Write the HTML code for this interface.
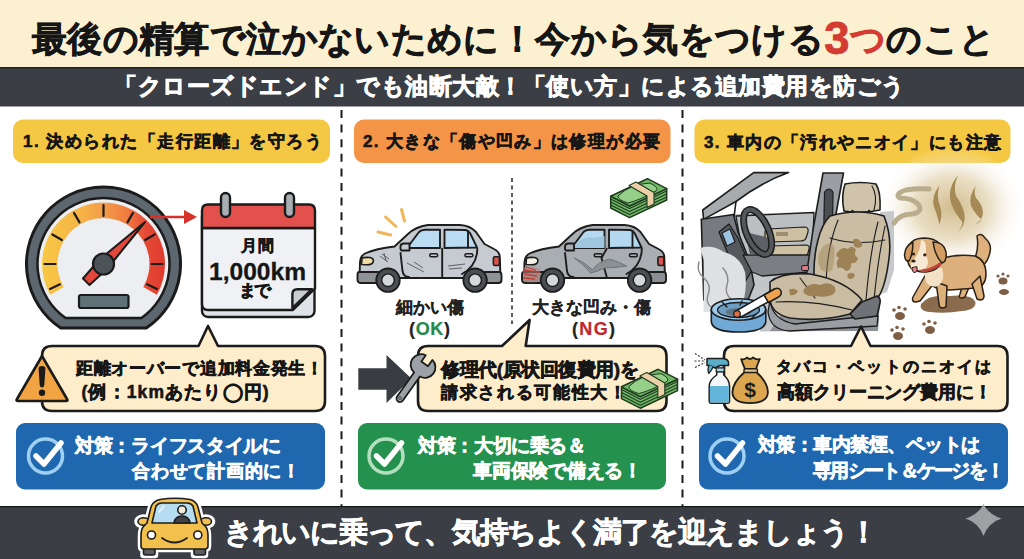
<!DOCTYPE html>
<html><head><meta charset="utf-8">
<style>
html,body{margin:0;padding:0}
body{width:1024px;height:559px;overflow:hidden;position:relative;background:#fff;font-family:"Liberation Sans",sans-serif}
.t{position:absolute;white-space:nowrap;line-height:1}
svg{position:absolute;left:0;top:0}
</style></head><body>
<svg width="1024" height="559" viewBox="0 0 1024 559">
<defs>
<linearGradient id="arcg" x1="0" y1="0" x2="1" y2="0">
<stop offset="0" stop-color="#f7c845"/><stop offset="0.3" stop-color="#f6b545"/><stop offset="0.5" stop-color="#f39d4a"/>
<stop offset="0.68" stop-color="#ef7d3f"/><stop offset="0.84" stop-color="#e64a35"/><stop offset="1" stop-color="#de3a2f"/>
</linearGradient>
<radialGradient id="smell" cx="0.5" cy="0.5" r="0.5">
<stop offset="0" stop-color="#cfb888" stop-opacity="0.95"/><stop offset="0.5" stop-color="#e0d0aa" stop-opacity="0.7"/><stop offset="1" stop-color="#ffffff" stop-opacity="0"/>
</radialGradient>
</defs>
<!-- bands -->
<rect x="0" y="0" width="1024" height="67" fill="#fbf0d0"/>
<rect x="0" y="67" width="1024" height="39.5" fill="#3b3e44"/>
<rect x="0" y="67" width="1024" height="1.5" fill="#222"/>
<rect x="0" y="506" width="1024" height="53" fill="#3b3e44"/>
<rect x="0" y="506" width="1024" height="1.2" fill="#151515"/>
<!-- dashed separators -->
<line x1="341.5" y1="110" x2="341.5" y2="506" stroke="#1a1a1a" stroke-width="2" stroke-dasharray="8 6.6"/>
<line x1="682.5" y1="110" x2="682.5" y2="506" stroke="#1a1a1a" stroke-width="2" stroke-dasharray="8 6.6"/>
<!-- pills -->
<rect x="13" y="119.5" width="317" height="43.5" rx="10" fill="#f5c843"/>
<rect x="354" y="119.5" width="316.5" height="43.5" rx="10" fill="#f39447"/>
<rect x="694.5" y="119.5" width="316" height="43.5" rx="10" fill="#f5c843"/>
<!-- boxes -->
<rect x="16" y="423" width="309" height="66.5" rx="9" fill="#1f68af"/>
<rect x="358" y="423" width="308" height="66.5" rx="9" fill="#24914f"/>
<rect x="699" y="423" width="309" height="66.5" rx="9" fill="#1f68af"/>
<!-- speedometer -->
<g stroke="#1b1b1b" stroke-linejoin="round">
<path d="M60.7 328 A77 77 0 1 1 146.3 328 Z" fill="#5c676f" stroke-width="3"/>
<path d="M65.6 318 A66 66 0 1 1 141.4 318 Z" fill="#eceef1" stroke-width="2.5"/>
<path d="M50.2 294.8 A61.5 61.5 0 1 1 156.8 294.8 L143.3 287.0 A46 46 0 1 0 63.7 287.0 Z" fill="url(#arcg)" stroke="none"/>
<g stroke-width="2.2" stroke-linecap="round"><line x1="60.0" y1="284.3" x2="50.0" y2="288.9"/><line x1="55.5" y1="264.0" x2="44.5" y2="264.0"/><line x1="61.9" y1="240.0" x2="52.4" y2="234.5"/><line x1="79.5" y1="222.4" x2="74.0" y2="212.9"/><line x1="103.5" y1="216.0" x2="103.5" y2="205.0"/><line x1="127.5" y1="222.4" x2="133.0" y2="212.9"/><line x1="145.1" y1="240.0" x2="154.6" y2="234.5"/><line x1="151.5" y1="264.0" x2="162.5" y2="264.0"/><line x1="147.0" y1="284.3" x2="157.0" y2="288.9"/></g>
<path d="M145 222 L107.5 268.5 L89.5 285 L83 278.5 L99 260 Z" fill="#e2483c" stroke-width="2"/>
<circle cx="103.5" cy="264" r="10.5" fill="#4b5359" stroke-width="2.2"/>
<rect x="79" y="295" width="49.5" height="13" rx="2" fill="#5f7176" stroke-width="2.2"/>
</g>
<!-- arrow -->
<line x1="150" y1="217" x2="187" y2="217" stroke="#d8302a" stroke-width="2.6"/>
<path d="M184 210 L197 217 L184 224 Z" fill="#d8302a"/>
<!-- calendar -->
<g stroke="#1b1b1b" stroke-width="2.4" stroke-linejoin="round">
<rect x="202" y="210" width="112.5" height="107" rx="6" fill="#dfe2e6"/>
<path d="M202 228 L315 228 L315 288.5 L293 310 L208 310 Q202 310 202 304 Z" fill="#eff1f4"/>
<path d="M208 204.5 L309 204.5 Q315 204.5 315 210.5 L315 228 L202 228 L202 210.5 Q202 204.5 208 204.5 Z" fill="#e3514d"/>
<path d="M292.4 308 L292.4 294 Q292.4 289.2 297.4 289.2 L312 289.2 Z" fill="#c9ccd1"/>
<rect x="221" y="193" width="9" height="24" rx="4.5" fill="#a9aeb3"/>
<rect x="285" y="193" width="9" height="24" rx="4.5" fill="#a9aeb3"/>
</g>
<!-- bubble 1 -->
<path d="M52 346 L198.5 346 L208 326 L218 346 L315 346 Q325 346 325 356 L325 401 Q325 411 315 411 L52 411 Q42 411 42 401 L42 356 Q42 346 52 346 Z" fill="#fdedca" stroke="#1b1b1b" stroke-width="2.6" stroke-linejoin="round"/>
<path d="M42 356 L67 399 Q68.5 401 66 401 L18 401 Q15.5 401 17 399 Z" fill="#f2a442" stroke="#1b1b1b" stroke-width="2.6" stroke-linejoin="round"/>
<path d="M38.6 369 Q38.4 366 42 366 Q45.6 366 45.4 369 L44.3 385 Q44 387.5 42 387.5 Q40 387.5 39.7 385 Z" fill="#1b1b1b"/>
<circle cx="42" cy="392.8" r="3.2" fill="#1b1b1b"/>
<!-- check icon 1 -->
<circle cx="45.5" cy="456" r="17" fill="none" stroke="#9fd0f3" stroke-width="3.5"/>
<path d="M36 456 L44 464 L61 443" fill="none" stroke="#fff" stroke-width="5.5" stroke-linecap="round" stroke-linejoin="round"/>
<line x1="512" y1="178" x2="512" y2="324" stroke="#5a5a5a" stroke-width="2" stroke-dasharray="4 3.5"/>
<g id="car" stroke="#1d1d1d" stroke-width="1.9" stroke-linejoin="round" stroke-linecap="round">
<path d="M359.5 278 L360 262 Q360.5 256 365 253.5 Q376 248.5 394.5 246.5 L408 234 Q415 227 428 225 L460 225 Q470 225.5 476 232 L484.5 244 L494 249 Q499.5 251.5 499.8 257 L500.5 278 Z" fill="#c5cbd1"/>
<path d="M407 248 L419 232 Q421 230 425 229.8 L440 229.6 L440 248 Z" fill="#b9dcf2"/>
<path d="M444.5 229.6 L465.5 230 Q468 230.2 470 233 L477 247.5 L444.5 248 Z" fill="#b9dcf2"/>
<line x1="468" y1="231" x2="468" y2="247.5"/>
<path d="M400.5 246 Q401 243.5 404 243.5 L409.5 243.5 L409.5 250.5 L402 250.5 Q400.5 250.5 400.5 248 Z" fill="#c5cbd1"/>
<path d="M400.5 253 L402.5 271 Q403.5 277 409 277" fill="none"/>
<line x1="442.2" y1="248.7" x2="442.2" y2="277"/>
<path d="M477.3 248.7 Q477 266 462 274" fill="none"/>
<rect x="429.7" y="253.8" width="8" height="3" rx="1.5" fill="#c5cbd1" stroke-width="1.5"/>
<rect x="464.9" y="253.8" width="8" height="3" rx="1.5" fill="#c5cbd1" stroke-width="1.5"/>
<path d="M362 258 Q365 257 370 257.5 Q374 258.5 373.3 261.5 Q372.5 264.8 367 264.8 L361.5 264.5 Z" fill="#f1dca6" stroke-width="1.6"/>
<rect x="493.4" y="256.7" width="6" height="8.8" rx="1.5" fill="#d9534f" stroke-width="1.6"/>
<path d="M359 272 L384 272 L384 283 L361 283 Q357.5 283 357.5 279.5 L357.5 275 Q357.5 272 359 272 Z" fill="#8e9398"/>
<path d="M478 272 L499 272 Q501.5 272 501.5 275 L501.5 280 Q501.5 283 498.5 283 L478 283 Z" fill="#8e9398"/>
<line x1="397" y1="278" x2="465" y2="278"/>
<circle cx="388" cy="280.2" r="11.7" fill="#4b4f53"/>
<circle cx="388" cy="280.2" r="6.3" fill="#d5d8db" stroke-width="1.4"/>
<circle cx="475.1" cy="280.2" r="11.7" fill="#4b4f53"/>
<circle cx="475.1" cy="280.2" r="6.3" fill="#d5d8db" stroke-width="1.4"/>
</g>
<g stroke="#f0b658" stroke-width="3" stroke-linecap="round">
<line x1="378" y1="232" x2="390.8" y2="235"/><line x1="385.5" y1="217" x2="396" y2="226.5"/><line x1="401.5" y1="209.5" x2="404.5" y2="221"/>
</g>
<g stroke="#555" stroke-width="0.9" fill="none">
<path d="M380 256 L388 262 M382 254 L389 259 M384 253 L386 261"/>
<path d="M407 263 L424 272 M414 262 L423 268"/>
<path d="M448 266 L465 264 M449 269 L462 268"/>
</g>
<!-- car 2 -->
<g transform="translate(164.5 0)" stroke="#1d1d1d" stroke-width="1.9" stroke-linejoin="round" stroke-linecap="round">
<path d="M359.5 278 L360 262 Q360.5 256 365 253.5 Q376 248.5 394.5 246.5 L408 234 Q415 227 428 225 L460 225 Q470 225.5 476 232 L484.5 244 L494 249 Q499.5 251.5 499.8 257 L500.5 278 Z" fill="#a9aeb3"/>
<path d="M407 248 L419 232 Q421 230 425 229.8 L440 229.6 L440 248 Z" fill="#b3d8ef"/>
<path d="M444.5 229.6 L465.5 230 Q468 230.2 470 233 L477 247.5 L444.5 248 Z" fill="#b3d8ef"/>
<path d="M412 243 Q420 236 430 238 L440 236 L440 248 L408 248 Z" fill="#9fc6df" stroke="none"/>
<line x1="468" y1="231" x2="468" y2="247.5"/>
<path d="M400.5 246 Q401 243.5 404 243.5 L409.5 243.5 L409.5 250.5 L402 250.5 Q400.5 250.5 400.5 248 Z" fill="#a9aeb3"/>
<path d="M400.5 253 L402.5 271 Q403.5 277 409 277" fill="none"/>
<path d="M442.2 248.7 L437 258 L442.2 277" fill="none"/>
<path d="M477.3 248.7 Q477 266 462 274" fill="none"/>
<path d="M410 258 Q420 262 428 270 Q433 262 445 259 Q455 262 462 266 Q450 268 440 268 Q432 272 426 273 Q420 265 410 258 Z" fill="#8b9095" stroke="#6f7479" stroke-width="1"/>
<rect x="429.7" y="253.8" width="8" height="3" rx="1.5" fill="#a9aeb3" stroke-width="1.5"/>
<rect x="464.9" y="253.8" width="8" height="3" rx="1.5" fill="#a9aeb3" stroke-width="1.5"/>
<path d="M362 258 Q365 257 370 257.5 Q374 258.5 373.3 261.5 Q372.5 264.8 367 264.8 L361.5 264.5 Z" fill="#f4f0e6" stroke-width="1.6"/>
<rect x="493.4" y="256.7" width="6" height="8.8" rx="1.5" fill="#d9534f" stroke-width="1.6"/>
<path d="M359 272 L384 272 L384 283 L361 283 Q357.5 283 357.5 279.5 L357.5 275 Q357.5 272 359 272 Z" fill="#8a8f94"/>
<path d="M478 272 L499 272 Q501.5 272 501.5 275 L501.5 280 Q501.5 283 498.5 283 L478 283 Z" fill="#8a8f94"/>
<path d="M358.5 268 Q367 265 376 269 L375 281 Q366 284 358.5 281 Z" fill="#b9857f" stroke="none" opacity="0.55"/>
<g stroke="#c0392e" stroke-width="1.3" opacity="0.9" fill="none"><path d="M359 270 L374 272 M360 274 L372 276 M359 278 L370 279 M362 267 L371 270"/></g>
<line x1="397" y1="278" x2="465" y2="278"/>
<circle cx="388" cy="280.2" r="11.7" fill="#4b4f53"/>
<circle cx="388" cy="280.2" r="6.3" fill="#d5d8db" stroke-width="1.4"/>
<circle cx="475.1" cy="280.2" r="11.7" fill="#4b4f53"/>
<circle cx="475.1" cy="280.2" r="6.3" fill="#d5d8db" stroke-width="1.4"/>
</g>
<!-- money 1 -->
<g id="money" stroke="#1f3a1f" stroke-width="1.5" stroke-linejoin="round">
<path d="M610.7 208 L629.5 217.6 L666.7 200 L666.7 188.6 L629.5 206 L610.7 196.2 Z" fill="#70b866"/>
<path d="M610.7 199 L629.5 208.6 L666.7 191 M610.7 202 L629.5 211.6 L666.7 194 M610.7 205 L629.5 214.6 L666.7 197" fill="none" stroke-width="1.1"/>
<path d="M610.7 196.2 L647.4 178.7 L666.7 188.6 L629.5 206 Z" fill="#70b866"/>
<path d="M618 196 Q630 184 650 183 Q660 188 656 191 Q640 200 628 203 Q618 200 618 196 Z" fill="#95cf88" stroke-width="1"/>
<path d="M629 185.5 L636 182 L654 192.5 L654 204 L647 207.5 L647 196 Z" fill="#ecd0a8" stroke-width="1.1"/>
</g>
<!-- arrow 2 -->
<path d="M358.3 368.2 L386.5 368.2 L386.5 355 L411.4 378.5 L386.5 403 L386.5 389.8 L358.3 389.8 Z" fill="#393c41"/>
<!-- bubble 2 -->
<path d="M428 346 L502 346 L529.6 320 L525.7 346 L656.5 346 Q666.5 346 666.5 356 L666.5 401 Q666.5 411 656.5 411 L428 411 Q418 411 418 401 L418 356 Q418 346 428 346 Z" fill="#fdedca" stroke="#1b1b1b" stroke-width="2.6" stroke-linejoin="round"/>
<!-- wrench -->
<g stroke="#1b1b1b" stroke-width="1.8" stroke-linejoin="round">
<path d="M397.1 396.5 L414.1 372.5 A10.5 10.5 0 0 1 425.8 355.3 L421.4 361.6 L427.9 366.2 L432.4 359.9 A10.5 10.5 0 0 1 419.9 376.5 L402.9 400.5 A3.5 3.5 0 0 1 397.1 396.5 Z" fill="#9ba1a7"/>
<circle cx="400" cy="398" r="1.3" fill="#eee" stroke-width="0.9"/>
</g>
<!-- money 2 -->
<g transform="translate(10.8 190.6)" stroke="#1f3a1f" stroke-width="1.5" stroke-linejoin="round">
<path d="M610.7 208 L629.5 217.6 L666.7 200 L666.7 188.6 L629.5 206 L610.7 196.2 Z" fill="#70b866"/>
<path d="M610.7 199 L629.5 208.6 L666.7 191 M610.7 202 L629.5 211.6 L666.7 194 M610.7 205 L629.5 214.6 L666.7 197" fill="none" stroke-width="1.1"/>
<path d="M610.7 196.2 L647.4 178.7 L666.7 188.6 L629.5 206 Z" fill="#70b866"/>
<path d="M618 196 Q630 184 650 183 Q660 188 656 191 Q640 200 628 203 Q618 200 618 196 Z" fill="#95cf88" stroke-width="1"/>
<path d="M629 185.5 L636 182 L654 192.5 L654 204 L647 207.5 L647 196 Z" fill="#ecd0a8" stroke-width="1.1"/>
</g>
<!-- check icon 2 -->
<circle cx="386" cy="456" r="17" fill="none" stroke="#b3dfbf" stroke-width="3.5"/>
<path d="M376.5 456 L384.5 464 L401.5 443" fill="none" stroke="#fff" stroke-width="5.5" stroke-linecap="round" stroke-linejoin="round"/>
<!-- smell glow -->
<ellipse cx="952" cy="208" rx="75" ry="62" fill="url(#smell)"/>
<!-- interior -->
<g stroke="#1d1d1d" stroke-width="1.6" stroke-linejoin="round" stroke-linecap="round">
<path d="M703.8 219 L735 214 L814 212 L806 278 L880 300 L878 331 L760 331.4 L760 311.4 L703.8 311.4 Z" fill="#c3c6c9" stroke="none"/>
<path d="M702.7 210 L753.7 172.6 L788.6 172.6 Q762 182 736 201.5 L703.6 219.4 Z" fill="#a8abae"/>
<path d="M736 201.5 L733.5 221" fill="none"/>
<path d="M736 216 L814 212.5 L812 256 L743 256 Z" fill="#bcbfc2" stroke-width="1.3"/>
<path d="M768 229 L804 227 Q809 227 808 232 L806 238 Q805 241 800 241 L769 242 Q765 242 765 238 L765 233 Q765 229 768 229 Z" fill="#cdc1a2" stroke-width="1.2"/>
<path d="M770 246 L806 245 Q810 245 809 249 L808 253 Q807 256 803 256 L771 257 Q767 257 767 253 L767 250 Q767 246 770 246 Z" fill="#cdc1a2" stroke-width="1.2"/>
<path d="M776 232 L788 232 L788 236 L776 236 Z" fill="#9c9070" stroke="none"/>
<path d="M701.3 219.3 L733.5 214.5 L738 232 L750 262 L754 285 L748 300 L703.8 300 Z" fill="#777b7f"/>
<path d="M719 232 L729 224 L738 238 L752 270 L745 282 L737 276 Z" fill="#55595d" stroke-width="1.3"/>
<path d="M722 233 L730 229 L735 242 L727 246 Z" fill="#9cc4e2" stroke-width="1.2"/>
<path d="M743 255 L812 255 L810 272 L762 276 L752 272 Z" fill="#7b7f83" stroke-width="1.3"/>
<path d="M745 232 L770 238 L768 252 L750 255 Z" fill="#5d6165" stroke="none"/>
<ellipse cx="757.6" cy="232" rx="11" ry="24" transform="rotate(-24 757.6 232)" fill="none" stroke="#1d1d1d" stroke-width="7"/>
<ellipse cx="757.6" cy="232" rx="11" ry="24" transform="rotate(-24 757.6 232)" fill="none" stroke="#54585c" stroke-width="4"/>
<path d="M700 248 Q712 244 724 252 Q740 256 745 272 Q748 292 740 311.4 L703.8 311.4 L703.8 260 Z" fill="#dfe0e1" stroke="none"/>
<path d="M699 262 Q696 272 704 278 Q712 285 708 295 Q705 302 712 308 M723 268 Q730 276 727 285 Q724 294 732 300" fill="none" stroke="#85888b" stroke-width="1.4"/>
<path d="M806 276 L880 298 L878 331 L770 331 Z" fill="#8e9195" stroke="none"/>
<path d="M823 173 L843.5 173 L833 230 L823 270 L806 278 L813 230 Z" fill="#9a9da1"/>
<path d="M824.5 192 Q829 186 833 192 L832 268 L823 268 Z" fill="#4a4d51" stroke-width="1.2"/>
<rect x="801.6" y="265.5" width="7" height="5" rx="1.5" fill="#e07b86" stroke-width="1"/>
<!-- seat -->
<path d="M880 212 L894 211 L894 270 L887 292 L879 295 Z" fill="#c6c8ca" stroke="none"/>
<path d="M845 184 Q860 181 876 184 Q881 192 880 210 Q862 214 844 211 Q841 196 845 184 Z" fill="#cfc4ab"/>
<path d="M872 186 Q878 196 874 210" fill="none" stroke-width="1.1"/>
<path d="M852.5 211 L852.5 216 M869 211 L869 216" fill="none" stroke-width="2.4"/>
<path d="M830 216 Q858 208 884 216 Q892 236 889 258 Q886 284 879 296 L858 304 L815 290 Q812 262 818 240 Q822 224 830 216 Z" fill="#cabda4"/>
<path d="M838 220 Q826 250 826 290 M878 222 Q870 252 866 300 M885 226 Q878 258 874 300 M830 238 Q856 246 885 240" fill="none" stroke-width="1.1"/>
<path d="M770 282 Q782 272 810 274 Q845 280 862 300 L850 314 Q820 322 790 318 Q772 314 770 300 Z" fill="#c9bca3"/>
<path d="M776 302 Q812 300 852 310 M800 278 L815 298" fill="none" stroke-width="1.1"/>
<path d="M770 300 Q772 320 795 324 L850 318 L878 316 L877 326 L790 331 Q770 330 768 312 Z" fill="#9a9da1" stroke-width="1.3"/>
<path d="M850 314 L862 302 L877 296 Q881 298 880 303 L877 316 L855 319 Z" fill="#6f7377"/>
<g fill="#9c8255" stroke="none">
<path d="M838 252 Q842 246 848 249 Q852 244 856 250 Q853 255 858 258 Q857 264 851 263 Q852 270 846 271 Q842 266 838 268 Q835 262 839 258 Q834 255 838 252 Z"/>
<path d="M853 240 Q857 237 860 241 Q864 243 861 247 Q857 249 854 246 Z"/>
<path d="M848 274 Q852 271 855 275 Q854 279 850 279 Q846 278 848 274 Z"/>
<path d="M822 248 Q828 240 834 246 Q836 258 832 270 Q824 276 819 266 Q816 256 822 248 Z" opacity="0.45"/>
<path d="M806 287 Q812 282 820 285 Q828 281 834 286 Q838 291 832 295 Q824 298 816 296 Q808 297 804 293 Q802 290 806 287 Z"/>
<path d="M789 290 Q794 287 798 291 Q796 296 790 295 Z"/>
</g>
<!-- ashtray -->
<path d="M711.3 309.5 L711.3 322 Q713 332 738.5 332 Q764 332 765.8 322 L765.8 309.5 Z" fill="#70a9d6"/>
<ellipse cx="738.5" cy="309.5" rx="27.2" ry="10.7" fill="#9fcbeb"/>
<ellipse cx="738.5" cy="310" rx="21" ry="7.5" fill="#6c9dc2" stroke-width="1.3"/>
<ellipse cx="738.5" cy="312" rx="13" ry="4" fill="#5e7684" stroke="none"/>
<path d="M722 302 L727 307 M756 314 L752 318 M742 301 L740 305" fill="none" stroke-width="1.4"/>
<path d="M735 311.5 L774.5 289 L780.5 295 L741 317 Z" fill="#ffffff" stroke-width="1.5"/>
<path d="M764 295 L774.5 289 Q779 287 781 291 Q782 295 778.5 297 L768.5 302.5 Z" fill="#eea34f" stroke-width="1.5"/>
<circle cx="737" cy="314" r="3.3" fill="#dd6e45" stroke-width="1.2"/>
</g>
<!-- smell lines -->
<g fill="#a68a55" stroke="none">
<path d="M939.5 185.5 Q931 196 934 207 Q937 214 939.5 224.5 Q943 214 940 206 Q936 196 939.5 185.5 Z"/>
<path d="M958 175.5 Q947 188 951 203 Q955 214 962.5 222 Q962 228 956.5 233.5 Q966 226 964.5 214 Q962 204 956 196 Q953 186 958 175.5 Z"/>
<path d="M976.5 185 Q968 196 971 206 Q975 214 981 219 Q981 222 975 224.5 Q983 220 983 212 Q982 204 976 198 Q973 191 976.5 185 Z"/>
</g>
<path d="M894 223 Q900 214 912 214 Q924 212 918 204 Q912 198 900 198 Q894 194 906 190 Q918 188 929 189" fill="none" stroke="#b9ad8d" stroke-width="5" stroke-linecap="round" stroke-linejoin="round"/>
<!-- mud + paws -->
<path d="M921 304 Q928 294 950 296 Q972 294 975.5 302 Q976 310 962 311 Q945 314 930 312 Q919 311 921 304 Z" fill="#8b6b4e"/>
<g fill="#7e5f45">
<ellipse cx="900" cy="316" rx="5" ry="4"/><circle cx="894" cy="310" r="1.8"/><circle cx="899" cy="307.5" r="1.8"/><circle cx="905" cy="309" r="1.8"/>
<ellipse cx="898" cy="336" rx="5" ry="4"/><circle cx="892" cy="330" r="1.8"/><circle cx="897" cy="327.5" r="1.8"/><circle cx="903" cy="329" r="1.8"/>
<ellipse cx="930" cy="330" rx="5" ry="4"/><circle cx="924" cy="324" r="1.8"/><circle cx="929" cy="321.5" r="1.8"/><circle cx="935" cy="323" r="1.8"/>
<ellipse cx="1003" cy="281" rx="4.5" ry="3.5"/><circle cx="998" cy="276" r="1.6"/><circle cx="1003" cy="274" r="1.6"/><circle cx="1008" cy="276" r="1.6"/>
<ellipse cx="1004" cy="292" rx="5" ry="3"/>
</g>
<!-- dog -->
<g stroke="#2a2118" stroke-width="1.5" stroke-linejoin="round" stroke-linecap="round">
<path d="M975 258 Q979 248 977 236 Q981 232 985 238 Q992 244 990 252 Q988 262 982 266 Z" fill="#deb07c"/>
<path d="M963 283 L960 294 Q958 298 962 298 L965 297 L970 285 Z" fill="#deb07c"/>
<path d="M942 258 Q958 254 975 256 Q986 260 986 274 Q986 286 976 288 L950 290 Q934 290 928 282 Q924 268 942 258 Z" fill="#deb07c"/>
<path d="M980 276 L984 296 Q984 300 980 300 L977 299 L972 284 Z" fill="#deb07c"/>
<path d="M927 272 L913 297 Q911 302 916 302 L920 301 L935 282 Z" fill="#deb07c"/>
<path d="M936 282 L939 304 Q939 308 943 308 L946 307 L947 286 Z" fill="#deb07c"/>
<path d="M924 272 Q932 266 942 268 Q946 280 938 286 Q930 288 926 282 Z" fill="#f4e2c6" stroke="none"/>
<path d="M908 252 Q908 238 925 238 Q944 239 943 256 Q942 270 926 272 Q910 272 908 262 Z" fill="#deb07c"/>
<path d="M921 240 Q926 240 926 248 L926 256 Q930 262 926 268 Q918 272 911 268 Q910 262 915 258 Q920 252 921 240 Z" fill="#f6e8d2" stroke="none"/>
<path d="M913 242 Q905 246 904.5 255 Q905 262 909 261 Q913 254 913 242 Z" fill="#d29c62"/>
<path d="M933 242 Q944 242 946 252 Q947 262 942 263 Q935 256 933 242 Z" fill="#d29c62"/>
<circle cx="913.5" cy="254" r="1.6" fill="#2a2118" stroke="none"/>
<circle cx="924.8" cy="254.8" r="1.6" fill="#2a2118" stroke="none"/>
<ellipse cx="913.5" cy="261" rx="2.2" ry="1.6" fill="#2a2118" stroke="none"/>
<path d="M912 268 Q912 273 915.5 272.5 Q918 271 917 267 Z" fill="#e8808a" stroke-width="1"/>
<path d="M922 271 Q932 270 940 264" fill="none" stroke="#c0443a" stroke-width="3"/>
</g>
<!-- bubble 3 -->
<path d="M734 346 L851 346 L861 326.5 L870.5 346 L997.5 346 Q1007.5 346 1007.5 356 L1007.5 401 Q1007.5 411 997.5 411 L734 411 Q724 411 724 401 L724 356 Q724 346 734 346 Z" fill="#fdedca" stroke="#1b1b1b" stroke-width="2.6" stroke-linejoin="round"/>
<!-- spray bottle -->
<g stroke="#1d1d1d" stroke-width="1.5" stroke-linejoin="round">
<path d="M716.7 371.5 L723.7 371.5 L723.7 375 Q729.5 380 729.5 386 L729.5 401.5 Q729.5 403.2 727.8 403.2 L710.9 403.2 Q709.2 403.2 709.2 401.5 L709.2 386 Q709.2 380 716.7 375 Z" fill="#f2f6f9"/>
<path d="M709.9 386 L728.8 386 L728.8 401.5 Q728.8 402.5 727.8 402.5 L710.9 402.5 Q709.9 402.5 709.9 401.5 Z" fill="#62b4d8" stroke="none"/>
<rect x="716.2" y="367.8" width="8" height="4" fill="#a9d6e6" stroke-width="1.2"/>
<path d="M707 358.5 L723 358.5 Q728.5 359 728.5 363 L728.5 365.5 L720 365.5 L715 368 L710 365.5 L707 365.5 Z" fill="#5aaec8"/>
<path d="M709 365.5 Q707 370 708.8 373.5 Q712 370 713.5 366" fill="#5aaec8" stroke-width="1.2"/>
</g>
<g stroke="#333" stroke-width="1.1" stroke-dasharray="2 1.6"><line x1="695" y1="353.5" x2="705" y2="360"/><line x1="694.5" y1="361" x2="705" y2="361"/><line x1="695" y1="367.5" x2="705" y2="362.5"/></g>
<!-- money bag -->
<g stroke="#1d1d1d" stroke-width="1.8" stroke-linejoin="round">
<path d="M744.5 372.3 Q733 382 732.4 392 Q732.5 403.1 750 403.1 Q767.9 403.1 767.9 392 Q767.5 382 756.5 372.3 Z" fill="#dca651"/>
<path d="M745 369 Q742 362 741.2 359 Q745 360 747 357.5 Q750 360.5 753 357.5 Q756 360 759.8 359 Q758 363 756 369 Z" fill="#dca651"/>
<rect x="744" y="368.8" width="13.4" height="3.6" rx="1.2" fill="#e7c28a" stroke-width="1.4"/>
</g>
<text x="750" y="396.5" text-anchor="middle" font-family="Liberation Sans, sans-serif" font-weight="bold" font-size="21" fill="#1d1d1d">$</text>
<!-- check icon 3 -->
<circle cx="727" cy="456" r="17" fill="none" stroke="#9fd0f3" stroke-width="3.5"/>
<path d="M717.5 456 L725.5 464 L742.5 443" fill="none" stroke="#fff" stroke-width="5.5" stroke-linecap="round" stroke-linejoin="round"/>
<!-- bottom car icon -->
<g stroke-linejoin="round" stroke-linecap="round">
<g stroke="#ffffff" stroke-width="6.5" fill="#ffffff">
<path d="M160 499.5 Q175 497 190 499.5 Q196 501 198 507 L202 523 L206 527 Q208 530 208 536 L208 546 Q208 549 205 549 L205 555 L194 555 L194 549 L155 549 L155 555 L143.5 555 L143.5 549 Q141 549 141 546 L141 536 Q141 530 143 527 L147 523 L151 507 Q153 501 160 499.5 Z"/>
<ellipse cx="143.5" cy="521.5" rx="6" ry="4"/><ellipse cx="206" cy="521.5" rx="6" ry="4"/>
</g>
<g stroke="#1d1d1d" stroke-width="1.6">
<rect x="143.5" y="546" width="11.5" height="9" rx="2" fill="#5a5d61"/>
<rect x="194" y="546" width="11.5" height="9" rx="2" fill="#5a5d61"/>
<ellipse cx="143.5" cy="521.5" rx="5.5" ry="3.8" fill="#f2c04c"/><ellipse cx="206" cy="521.5" rx="5.5" ry="3.8" fill="#f2c04c"/>
<path d="M160 499.5 Q175 497 190 499.5 Q196 501 198 507 L202 523 L206 527 Q208 530 208 536 L208 546 Q208 549 205 549 L144 549 Q141 549 141 546 L141 536 Q141 530 143 527 L147 523 L151 507 Q153 501 160 499.5 Z" fill="#f2c04c"/>
<path d="M156 506 Q158 503 162 503 L187 503 Q191 503 193 506 L197 523 L152 523 Z" fill="#b5dcf1"/>
<circle cx="182" cy="510" r="4.2" fill="#f3ecd9"/>
<path d="M174 523 Q175 516 182 516 Q189 516 190 523 Z" fill="#3f4246"/>
<circle cx="151.5" cy="535" r="4" fill="#ffffff"/><circle cx="197.8" cy="535" r="4" fill="#ffffff"/>
<path d="M162 538 Q174.5 547 187 538" fill="none" stroke-width="1.8"/>
</g>
<line x1="159" y1="512" x2="164" y2="506" stroke="#ffffff" stroke-width="1.6" opacity="0.8"/>
</g>
<!-- sparkle -->
<path d="M983.5 504 Q988.5 514.5 1001.5 518.5 Q988.5 522.5 983.5 536 Q978.5 522.5 965.5 518.5 Q978.5 514.5 983.5 504 Z" fill="#9ea0a3"/>
</svg>
<div class="t" id="t1" style="left:32.00px;top:21.06px;font-size:35.00px;letter-spacing:0.369px;font-weight:bold;-webkit-text-stroke:0.77px currentColor;color:#161616">最後の精算で泣かないために！今から気をつける<span style="color:#d43b31;font-size:1.3em;line-height:0;position:relative;top:3px">3</span><span style="color:#d43b31">つ</span>のこと</div>
<div class="t" id="t2" style="left:114.00px;top:75.12px;font-size:23.00px;letter-spacing:0.500px;font-weight:bold;-webkit-text-stroke:0.81px currentColor;color:#ffffff">「クローズドエンド」でも油断大敵！「使い方」による追加費用を防ごう</div>
<div class="t" id="p1" style="left:23.00px;top:132.72px;font-size:17.00px;letter-spacing:1.471px;font-weight:bold;-webkit-text-stroke:0.60px currentColor;color:#161616">1. 決められた「走行距離」を守ろう</div>
<div class="t" id="p2" style="left:363.00px;top:132.72px;font-size:17.00px;letter-spacing:1.353px;font-weight:bold;-webkit-text-stroke:0.60px currentColor;color:#161616">2. 大きな「傷や凹み」は修理が必要</div>
<div class="t" id="p3" style="left:704.00px;top:133.72px;font-size:17.00px;letter-spacing:1.353px;font-weight:bold;-webkit-text-stroke:0.60px currentColor;color:#161616">3. 車内の「汚れやニオイ」にも注意</div>
<div class="t" id="c1" style="left:241.00px;top:238.34px;font-size:15.50px;letter-spacing:1.000px;font-weight:bold;-webkit-text-stroke:0.54px currentColor;color:#161616">月間</div>
<div class="t" id="c2" style="left:209.00px;top:260.24px;font-size:24.58px;letter-spacing:0.000px;font-weight:bold;-webkit-text-stroke:0.29px currentColor;color:#161616">1,000km</div>
<div class="t" id="c3" style="left:239.00px;top:282.36px;font-size:16.99px;letter-spacing:-2.000px;font-weight:bold;-webkit-text-stroke:0.59px currentColor;color:#161616">まで</div>
<div class="t" id="b1a" style="left:76.00px;top:359.72px;font-size:17.00px;letter-spacing:0.692px;font-weight:bold;-webkit-text-stroke:0.60px currentColor;color:#161616">距離オーバーで追加料金発生！</div>
<div class="t" id="b1b" style="left:81.50px;top:384.22px;font-size:17.50px;letter-spacing:1.136px;font-weight:bold;-webkit-text-stroke:0.61px currentColor;color:#161616">(例：1kmあたり◯円)</div>
<div class="t" id="x1a" style="left:75.00px;top:435.60px;font-size:19.00px;letter-spacing:-0.300px;font-weight:bold;-webkit-text-stroke:0.67px currentColor;color:#ffffff">対策：ライフスタイルに</div>
<div class="t" id="x1b" style="left:132.00px;top:461.60px;font-size:18.00px;letter-spacing:0.750px;font-weight:bold;-webkit-text-stroke:0.63px currentColor;color:#ffffff">合わせて計画的に！</div>
<div class="t" id="k1" style="left:396.00px;top:298.72px;font-size:17.00px;letter-spacing:0.000px;font-weight:bold;-webkit-text-stroke:0.20px currentColor;color:#222222">細かい傷</div>
<div class="t" id="k2" style="left:409.00px;top:319.72px;font-size:18.01px;letter-spacing:0.667px;font-weight:bold;-webkit-text-stroke:0.22px currentColor;color:#222222">(<span style="color:#23894a">OK</span>)</div>
<div class="t" id="k3" style="left:532.00px;top:298.72px;font-size:17.00px;letter-spacing:0.000px;font-weight:bold;-webkit-text-stroke:0.20px currentColor;color:#222222">大きな凹み・傷</div>
<div class="t" id="k4" style="left:572.00px;top:319.72px;font-size:18.01px;letter-spacing:1.333px;font-weight:bold;-webkit-text-stroke:0.22px currentColor;color:#222222">(<span style="color:#c1282b">NG</span>)</div>
<div class="t" id="b2a" style="left:441.00px;top:359.72px;font-size:19.00px;letter-spacing:-0.455px;font-weight:bold;-webkit-text-stroke:0.67px currentColor;color:#161616">修理代(原状回復費用)を</div>
<div class="t" id="b2b" style="left:441.00px;top:383.72px;font-size:17.00px;letter-spacing:1.667px;font-weight:bold;-webkit-text-stroke:0.60px currentColor;color:#161616">請求される可能性大！</div>
<div class="t" id="x2a" style="left:418.00px;top:435.60px;font-size:19.00px;letter-spacing:-0.375px;font-weight:bold;-webkit-text-stroke:0.67px currentColor;color:#ffffff">対策：大切に乗る＆</div>
<div class="t" id="x2b" style="left:473.00px;top:461.60px;font-size:18.50px;letter-spacing:-0.250px;font-weight:bold;-webkit-text-stroke:0.65px currentColor;color:#ffffff">車両保険で備える！</div>
<div class="t" id="b3a" style="left:776.00px;top:358.72px;font-size:16.00px;letter-spacing:2.091px;font-weight:bold;-webkit-text-stroke:0.56px currentColor;color:#161616">タバコ・ペットのニオイは</div>
<div class="t" id="b3b" style="left:777.00px;top:382.72px;font-size:18.00px;letter-spacing:-0.091px;font-weight:bold;-webkit-text-stroke:0.63px currentColor;color:#161616">高額クリーニング費用に！</div>
<div class="t" id="x3a" style="left:758.00px;top:434.60px;font-size:19.00px;letter-spacing:-0.545px;font-weight:bold;-webkit-text-stroke:0.67px currentColor;color:#ffffff">対策：車内禁煙、ペットは</div>
<div class="t" id="x3b" style="left:813.00px;top:461.60px;font-size:18.50px;letter-spacing:-1.700px;font-weight:bold;-webkit-text-stroke:0.65px currentColor;color:#ffffff">専用シート＆ケージを！</div>
<div class="t" id="bt" style="left:224.00px;top:518.28px;font-size:29.00px;letter-spacing:-1.273px;font-weight:bold;-webkit-text-stroke:0.64px currentColor;color:#ffffff">きれいに乗って、気持ちよく満了を迎えましょう！</div>
</body></html>
